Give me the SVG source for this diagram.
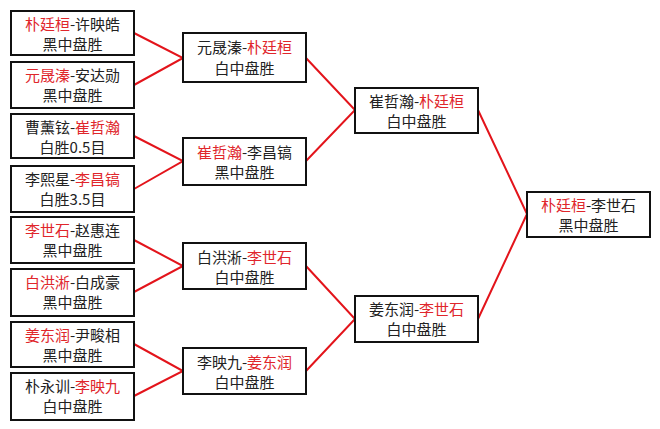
<svg xmlns="http://www.w3.org/2000/svg" width="660" height="429" viewBox="0 0 660 429">
<style>
.box{fill:#fff;stroke:#111;stroke-width:2}
.t{font-family:"Noto Sans CJK SC","Liberation Sans",sans-serif;font-size:15px;fill:#222;text-anchor:middle}
.r{fill:#e0262b}
.c{stroke:#e3141b;stroke-width:2;fill:none}
</style>
<rect width="660" height="429" fill="#fff"/>
<g id="connectors">
<path class="c" d="M134,33 L183,58 L134,85"/>
<path class="c" d="M134,136 L183,161 L134,189"/>
<path class="c" d="M134,240 L183,266 L134,292"/>
<path class="c" d="M134,344 L183,371 L134,396"/>
<path class="c" d="M306,58 L355,110 L306,161"/>
<path class="c" d="M306,266 L355,319 L306,371"/>
<path class="c" d="M478,110 L527,214 L478,319"/>
</g>
<g id="n1"><rect class="box" x="11" y="11" width="123" height="44"/><text class="t" x="72.5" y="30"><tspan class="r">朴廷桓</tspan>-许映皓</text><text class="t" x="72.5" y="50">黑中盘胜</text></g>
<g id="n2"><rect class="box" x="11" y="62" width="123" height="46"/><text class="t" x="72.5" y="81"><tspan class="r">元晟溱</tspan>-安达勋</text><text class="t" x="72.5" y="101">黑中盘胜</text></g>
<g id="n3"><rect class="box" x="11" y="114" width="123" height="44"/><text class="t" x="72.5" y="133">曹薰铉-<tspan class="r">崔哲瀚</tspan></text><text class="t" x="72.5" y="153">白胜0.5目</text></g>
<g id="n4"><rect class="box" x="11" y="166" width="123" height="46"/><text class="t" x="72.5" y="185">李熙星-<tspan class="r">李昌镐</tspan></text><text class="t" x="72.5" y="205">白胜3.5目</text></g>
<g id="n5"><rect class="box" x="11" y="217" width="123" height="46"/><text class="t" x="72.5" y="236"><tspan class="r">李世石</tspan>-赵惠连</text><text class="t" x="72.5" y="256">黑中盘胜</text></g>
<g id="n6"><rect class="box" x="11" y="269" width="123" height="47"/><text class="t" x="72.5" y="288"><tspan class="r">白洪淅</tspan>-白成豪</text><text class="t" x="72.5" y="308">黑中盘胜</text></g>
<g id="n7"><rect class="box" x="11" y="322" width="123" height="45"/><text class="t" x="72.5" y="341"><tspan class="r">姜东润</tspan>-尹畯相</text><text class="t" x="72.5" y="361">黑中盘胜</text></g>
<g id="n8"><rect class="box" x="11" y="373" width="123" height="47"/><text class="t" x="72.5" y="392">朴永训-<tspan class="r">李映九</tspan></text><text class="t" x="72.5" y="412">白中盘胜</text></g>
<g id="n9"><rect class="box" x="183" y="33" width="123" height="49"/><text class="t" x="244.5" y="53">元晟溱-<tspan class="r">朴廷桓</tspan></text><text class="t" x="244.5" y="74">白中盘胜</text></g>
<g id="n10"><rect class="box" x="183" y="138" width="123" height="47"/><text class="t" x="244.5" y="158"><tspan class="r">崔哲瀚</tspan>-李昌镐</text><text class="t" x="244.5" y="178">黑中盘胜</text></g>
<g id="n11"><rect class="box" x="183" y="243" width="123" height="46"/><text class="t" x="244.5" y="263">白洪淅-<tspan class="r">李世石</tspan></text><text class="t" x="244.5" y="283">白中盘胜</text></g>
<g id="n12"><rect class="box" x="183" y="348" width="123" height="46"/><text class="t" x="244.5" y="368">李映九-<tspan class="r">姜东润</tspan></text><text class="t" x="244.5" y="388">白中盘胜</text></g>
<g id="n13"><rect class="box" x="355" y="88" width="123" height="45"/><text class="t" x="416.5" y="107">崔哲瀚-<tspan class="r">朴廷桓</tspan></text><text class="t" x="416.5" y="127">白中盘胜</text></g>
<g id="n14"><rect class="box" x="355" y="296" width="123" height="46"/><text class="t" x="416.5" y="315">姜东润-<tspan class="r">李世石</tspan></text><text class="t" x="416.5" y="335">白中盘胜</text></g>
<g id="n15"><rect class="box" x="527" y="192" width="123" height="45"/><text class="t" x="588.5" y="211"><tspan class="r">朴廷桓</tspan>-李世石</text><text class="t" x="588.5" y="231">黑中盘胜</text></g>
</svg>
